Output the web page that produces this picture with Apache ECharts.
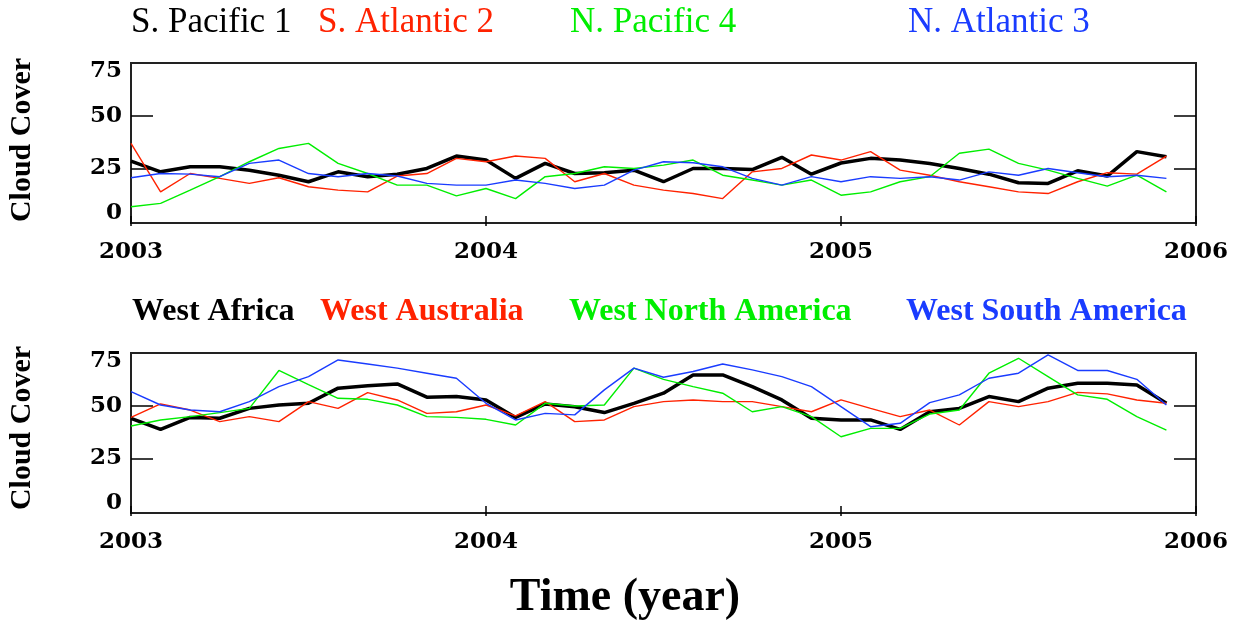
<!DOCTYPE html>
<html>
<head>
<meta charset="utf-8">
<style>
  html, body { margin: 0; padding: 0; background: #fff; }
  #chart { width: 1239px; height: 620px; }
</style>
<script src="https://cdn.jsdelivr.net/npm/echarts@6/dist/echarts.min.js"></script>
</head>
<body>
<div id="chart"></div>
<script>
// Monthly cloud cover (%), January 2003 through December 2005
const startYear = 2003;
const monthCount = 36;

// Ocean regions (upper panel)
const oceanNames = ['S. Pacific 1', 'S. Atlantic 2', 'N. Pacific 4', 'N. Atlantic 3'];
const sPacific1 = [28.4, 23.3, 25.7, 25.7, 24.1, 21.7, 18.6, 23.3, 21.0, 22.2, 24.9, 30.8,
                   28.9, 20.2, 27.3, 22.5, 22.9, 24.1, 18.6, 24.9, 24.9, 24.4, 30.2, 22.2,
                   27.5, 29.7, 28.9, 27.3, 24.9, 22.2, 18.1, 17.8, 23.8, 21.3, 32.9, 30.5];
const sAtlantic2 = [36.8, 13.8, 22.5, 20.2, 17.8, 20.5, 16.2, 14.6, 13.8, 21.3, 22.5, 29.7,
                    28.1, 30.8, 29.7, 18.6, 22.5, 17.0, 14.6, 13.0, 10.6, 23.3, 24.9, 31.3,
                    28.9, 32.9, 24.1, 21.7, 18.6, 16.2, 13.8, 13.0, 18.6, 22.9, 22.2, 30.8];
const nPacific4 = [6.7, 8.3, 14.6, 21.0, 28.1, 34.4, 36.8, 27.3, 22.5, 17.0, 17.0, 11.9,
                   15.4, 10.6, 21.0, 22.5, 25.7, 24.9, 26.5, 28.9, 21.7, 19.4, 17.0, 19.4,
                   12.2, 13.8, 18.6, 21.0, 32.1, 34.1, 27.3, 24.1, 20.2, 16.5, 21.7, 13.8];
const nAtlantic3 = [20.5, 22.5, 22.2, 21.0, 27.3, 28.9, 22.5, 21.0, 22.5, 21.3, 17.8, 17.0,
                    17.0, 19.4, 17.8, 15.4, 17.0, 24.1, 28.1, 27.6, 25.7, 20.2, 17.0, 21.0,
                    18.6, 21.0, 20.2, 21.0, 19.4, 23.3, 21.7, 24.9, 22.9, 21.0, 21.7, 20.2];

// Continental coast regions (lower panel)
const coastNames = ['West Africa', 'West Australia', 'West North America', 'West South America'];
const westAfrica = [44.0, 38.7, 44.4, 44.0, 48.7, 50.3, 51.1, 58.3, 59.4, 60.3, 54.0, 54.3,
                    52.7, 44.4, 50.8, 49.5, 46.7, 51.1, 55.9, 64.6, 64.6, 59.0, 52.7, 44.0,
                    43.2, 43.2, 38.7, 47.1, 48.7, 54.3, 51.9, 58.3, 60.6, 60.6, 59.8, 51.1];
const westAustralia = [44.4, 50.8, 47.9, 42.4, 44.8, 42.4, 51.9, 48.7, 56.2, 52.7, 46.3, 47.1,
                       50.3, 45.1, 51.9, 42.4, 43.2, 49.5, 51.9, 52.7, 51.9, 51.9, 49.5, 47.1,
                       52.7, 48.7, 44.8, 47.9, 40.8, 51.9, 49.5, 51.9, 56.3, 55.6, 52.7, 51.1];
const westNorthAmerica = [40.3, 43.2, 44.8, 46.7, 48.7, 66.7, 60.0, 53.5, 53.0, 50.3, 44.8, 44.4,
                          43.5, 40.8, 51.1, 49.8, 50.3, 67.8, 62.5, 59.0, 55.9, 47.1, 49.5, 44.8,
                          35.2, 39.2, 39.2, 46.0, 47.9, 65.4, 72.5, 63.8, 55.1, 53.0, 44.8, 38.4];
const westSouthAmerica = [56.7, 50.3, 47.9, 47.1, 51.9, 59.0, 63.8, 71.7, 69.8, 67.8, 65.4, 63.0,
                          51.1, 43.2, 46.3, 45.6, 57.5, 67.8, 63.5, 66.2, 69.8, 67.0, 63.8, 59.0,
                          49.5, 40.0, 41.6, 51.4, 55.1, 63.0, 65.4, 74.1, 66.7, 66.7, 62.5, 50.3];

const yearTicks = [2003, 2004, 2005, 2006];
const coverLabels = [0, 25, 50, 75];
const coverTicks = [25, 50];

const lineColors = ['#000000', '#ff2200', '#00ee00', '#1a3cff'];
const lineWidths = [3.5, 1.4, 1.4, 1.4];

// decimal-year position of each monthly value
const monthPos = [];
for (let k = 0; k < monthCount; k++) monthPos.push(startYear + k / 12);

const tickFont = { fontFamily: 'DejaVu Serif', fontWeight: 'bold', fontSize: 23, color: '#000' };

function panelAxes(gi) {
  const x = [
    {
      gridIndex: gi, type: 'value', position: 'bottom',
      min: yearTicks[0], max: yearTicks[yearTicks.length - 1], interval: 1,
      axisLine: { show: false },
      axisTick: { inside: true, length: 5, lineStyle: { color: '#000', width: 1.5 } },
      axisLabel: Object.assign({ margin: 18, formatter: v => String(v) }, tickFont),
      splitLine: { show: false }
    },
    {
      gridIndex: gi, type: 'value', position: 'top',
      min: yearTicks[0], max: yearTicks[yearTicks.length - 1], interval: 1,
      axisLine: { show: false },
      axisTick: { inside: true, length: 5, lineStyle: { color: '#000', width: 1.5 } },
      axisLabel: { show: false },
      splitLine: { show: false }
    }
  ];
  const richBase = Object.assign({}, tickFont);
  const y = [
    {
      gridIndex: gi, type: 'value', position: 'left', min: -1, max: 75,
      axisLine: { show: false },
      axisTick: { inside: true, length: 22, customValues: coverTicks, lineStyle: { color: '#000', width: 1.5 } },
      axisLabel: Object.assign({
        margin: 9,
        customValues: coverLabels,
        formatter: v => v === 75 ? '{dn|75}' : (v === 0 ? '{up|0}' : '{n|' + v + '}'),
        rich: {
          n: richBase,
          dn: Object.assign({ padding: [16, 0, 0, 0] }, richBase),
          up: Object.assign({ padding: [0, 0, 16, 0] }, richBase)
        }
      }, tickFont),
      splitLine: { show: false }
    },
    {
      gridIndex: gi, type: 'value', position: 'right', min: -1, max: 75,
      axisLine: { show: false },
      axisTick: { inside: true, length: 22, customValues: coverTicks, lineStyle: { color: '#000', width: 1.5 } },
      axisLabel: { show: false },
      splitLine: { show: false }
    }
  ];
  return { x, y };
}

function lineSeries(name, values, idx, gi) {
  return {
    name: name, type: 'line',
    xAxisIndex: gi * 2, yAxisIndex: gi * 2,
    data: values.map((v, k) => [monthPos[k], v]),
    showSymbol: false, symbol: 'none', smooth: false,
    lineStyle: { color: lineColors[idx], width: lineWidths[idx] },
    itemStyle: { color: lineColors[idx] },
    z: 2 + idx, silent: true
  };
}

const p0 = panelAxes(0), p1 = panelAxes(1);
const oceanData = [sPacific1, sAtlantic2, nPacific4, nAtlantic3];
const coastData = [westAfrica, westAustralia, westNorthAmerica, westSouthAmerica];

const oceanLegendX = [131, 318, 570, 908];
const coastLegendX = [132, 320, 569, 906];

const graphics = [];
oceanNames.forEach((n, i) => graphics.push({
  type: 'text', left: oceanLegendX[i], top: 5,
  style: { text: n, fill: lineColors[i], font: 'normal 35px "Liberation Serif"' }
}));
coastNames.forEach((n, i) => graphics.push({
  type: 'text', left: coastLegendX[i], top: 296,
  style: { text: n, fill: lineColors[i], font: 'bold 32px "Liberation Serif"' }
}));
[140, 428].forEach(cy => graphics.push({
  type: 'text', x: 22, y: cy, rotation: Math.PI / 2,
  style: { text: 'Cloud Cover', fill: '#000', font: 'bold 30px "Liberation Serif"',
           textAlign: 'center', textVerticalAlign: 'middle' }
}));
graphics.push({
  type: 'text', x: 625, y: 598,
  style: { text: 'Time (year)', fill: '#000', font: 'bold 46px "Liberation Serif"',
           textAlign: 'center', textVerticalAlign: 'middle' }
});

const chart = echarts.init(document.getElementById('chart'), null, { renderer: 'canvas' });
chart.setOption({
  animation: false,
  backgroundColor: '#fff',
  grid: [
    { left: 131, right: 43, top: 63, height: 160, show: true, borderColor: '#222', borderWidth: 2, backgroundColor: 'transparent' },
    { left: 131, right: 43, top: 353, height: 160, show: true, borderColor: '#222', borderWidth: 2, backgroundColor: 'transparent' }
  ],
  xAxis: p0.x.concat(p1.x),
  yAxis: p0.y.concat(p1.y),
  series: oceanNames.map((n, i) => lineSeries(n, oceanData[i], i, 0))
    .concat(coastNames.map((n, i) => lineSeries(n, coastData[i], i, 1))),
  graphic: graphics
});
</script>
</body>
</html>
